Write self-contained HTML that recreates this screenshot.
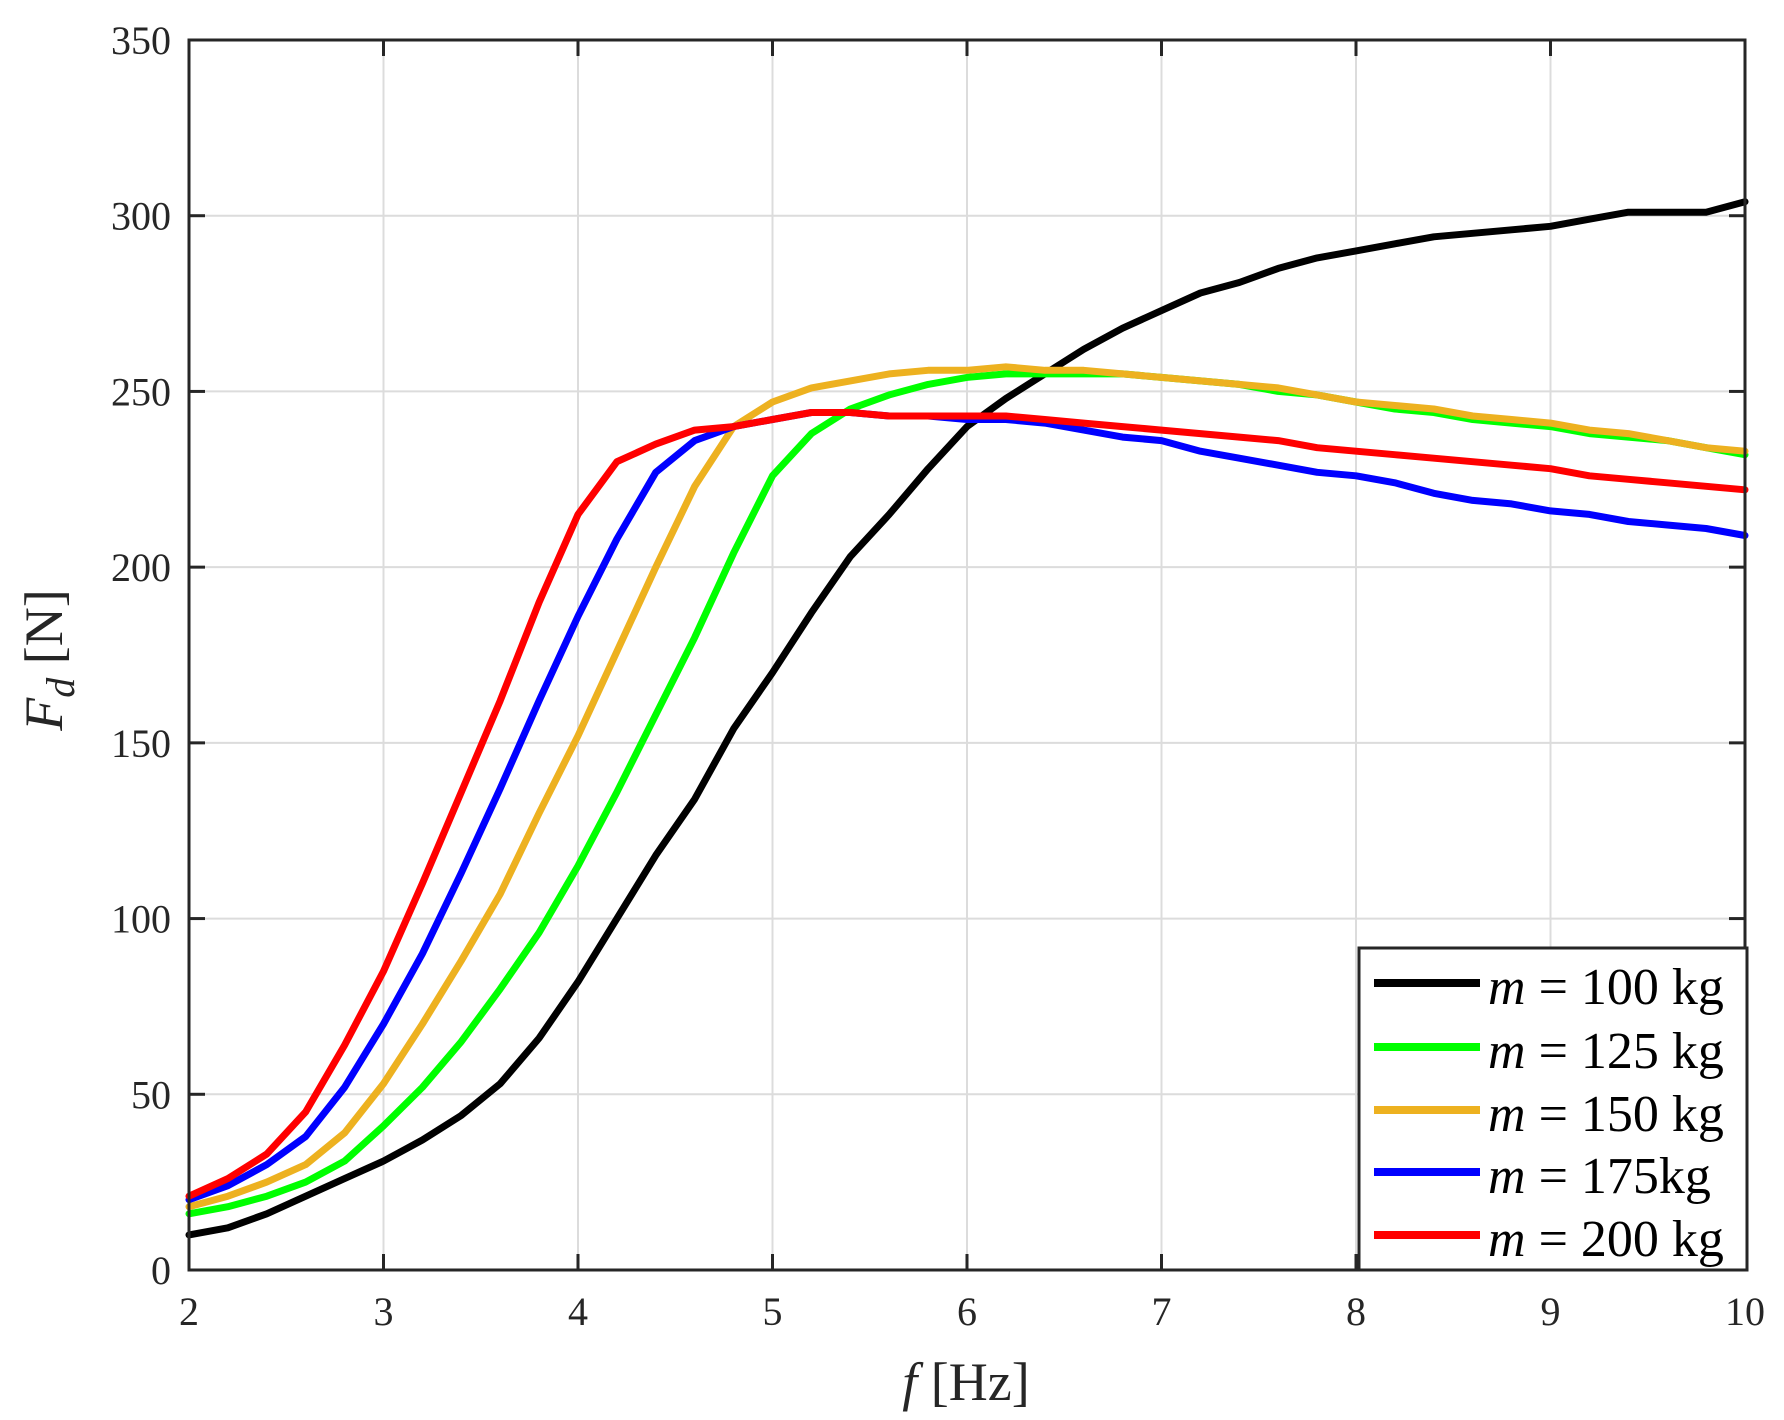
<!DOCTYPE html>
<html><head><meta charset="utf-8"><style>
html,body{margin:0;padding:0;background:#fff;}
svg{display:block;font-family:"Liberation Serif",serif;}
</style></head><body>
<svg id="chart" width="1784" height="1420" viewBox="0 0 1784 1420" xmlns="http://www.w3.org/2000/svg">
<g id="grid"></g>
<g id="series"></g>
<g id="axes"></g>
<text x="966" y="1400" font-size="54" text-anchor="middle" fill="#262626"><tspan font-style="italic">f</tspan> [Hz]</text>
<text transform="translate(62,660) rotate(-90)" font-size="54" text-anchor="middle" fill="#262626"><tspan font-style="italic">F</tspan><tspan font-style="italic" font-size="40" dy="12">d</tspan><tspan dy="-12"> [N]</tspan></text>
<g id="legend"></g>
</svg>
<script>
const xValues = [2,2.2,2.4,2.6,2.8,3,3.2,3.4,3.6,3.8,4,4.2,4.4,4.6,4.8,5,5.2,5.4,5.6,5.8,6,6.2,6.4,6.6,6.8,7,7.2,7.4,7.6,7.8,8,8.2,8.4,8.6,8.8,9,9.2,9.4,9.6,9.8,10];
const m100 = [10,12,16,21,26,31,37,44,53,66,82,100,118,134,154,170,187,203,215,228,240,248,255,262,268,273,278,281,285,288,290,292,294,295,296,297,299,301,301,301,304];
const m125 = [16,18,21,25,31,41,52,65,80,96,115,136,158,180,204,226,238,245,249,252,254,255,255,255,255,254,253,252,250,249,247,245,244,242,241,240,238,237,236,234,232];
const m150 = [18,21,25,30,39,53,70,88,107,130,152,176,200,223,240,247,251,253,255,256,256,257,256,256,255,254,253,252,251,249,247,246,245,243,242,241,239,238,236,234,233];
const m175 = [20,24,30,38,52,70,90,113,137,162,186,208,227,236,240,242,244,244,243,243,242,242,241,239,237,236,233,231,229,227,226,224,221,219,218,216,215,213,212,211,209];
const m200 = [21,26,33,45,64,85,110,136,162,190,215,230,235,239,240,242,244,244,243,243,243,243,242,241,240,239,238,237,236,234,233,232,231,230,229,228,226,225,224,223,222];
const xTicks = [2,3,4,5,6,7,8,9,10];
const yTicks = [0,50,100,150,200,250,300,350];
const seriesLabels = ["100 kg","125 kg","150 kg","175kg","200 kg"];
const seriesColors = ["#000000","#00ff00","#edb120","#0000ff","#ff0000"];
const seriesData = [m100,m125,m150,m175,m200];

const NS="http://www.w3.org/2000/svg";
const X0=189,X1=1745,Y0=1270,Y1=40;
const sx=v=>X0+(v-2)/(10-2)*(X1-X0);
const sy=v=>Y0-(v-0)/(350-0)*(Y0-Y1);
function mk(tag,attrs,parent){const e=document.createElementNS(NS,tag);for(const k in attrs)e.setAttribute(k,attrs[k]);parent.appendChild(e);return e;}
const grid=document.getElementById('grid'),axes=document.getElementById('axes'),ser=document.getElementById('series'),leg=document.getElementById('legend');
xTicks.forEach(t=>{
  const g=mk('line',{x1:sx(t),x2:sx(t),y1:Y1,y2:Y0,stroke:'#dcdcdc','stroke-width':2},grid);
  
  
  const tk=mk('line',{x1:sx(t),x2:sx(t),y1:Y0,y2:Y0-16,stroke:'#262626','stroke-width':3},axes);
  
  
  const tk2=mk('line',{x1:sx(t),x2:sx(t),y1:Y1,y2:Y1+16,stroke:'#262626','stroke-width':3},axes);
  
  
  const tl=mk('text',{x:sx(t),y:1325,'font-size':40,'text-anchor':'middle',fill:'#262626'},axes);
  tl.textContent=t;
  
  
});
yTicks.forEach(t=>{
  const g=mk('line',{x1:X0,x2:X1,y1:sy(t),y2:sy(t),stroke:'#dcdcdc','stroke-width':2},grid);
  
  
  const tk=mk('line',{x1:X0,x2:X0+16,y1:sy(t),y2:sy(t),stroke:'#262626','stroke-width':3},axes);
  
  
  const tk2=mk('line',{x1:X1,x2:X1-16,y1:sy(t),y2:sy(t),stroke:'#262626','stroke-width':3},axes);
  
  
  const tl=mk('text',{x:171,y:sy(t)+14,'font-size':40,'text-anchor':'end',fill:'#262626'},axes);
  tl.textContent=t;
  
  
});
const box=mk('rect',{x:X0,y:Y1,width:X1-X0,height:Y0-Y1,fill:'none',stroke:'#262626','stroke-width':3},axes);


seriesData.forEach((d,i)=>{
  const pts=d.map((v,j)=>sx(xValues[j]).toFixed(1)+','+sy(v).toFixed(1)).join(' ');
  const p=mk('polyline',{points:pts,fill:'none',stroke:seriesColors[i],'stroke-width':7,'stroke-linejoin':'round','stroke-linecap':'round'},ser);
  
  
});
const lb=mk('rect',{x:1359,y:948,width:388,height:322,fill:'#fff',stroke:'#262626','stroke-width':3},leg);


const legY=[983,1047,1110,1172,1235];
seriesLabels.forEach((s,i)=>{
  const y=legY[i];
  const l=mk('line',{x1:1374,x2:1480,y1:y,y2:y,stroke:seriesColors[i],'stroke-width':8},leg);
  
  
  const t=mk('text',{x:1488,y:y+21,'font-size':52,fill:'#000'},leg);
  
  
  const a=mk('tspan',{'font-style':'italic'},t);a.textContent='m';
  const b=mk('tspan',{},t);b.textContent=' = '+s;
});
</script>
</body></html>
